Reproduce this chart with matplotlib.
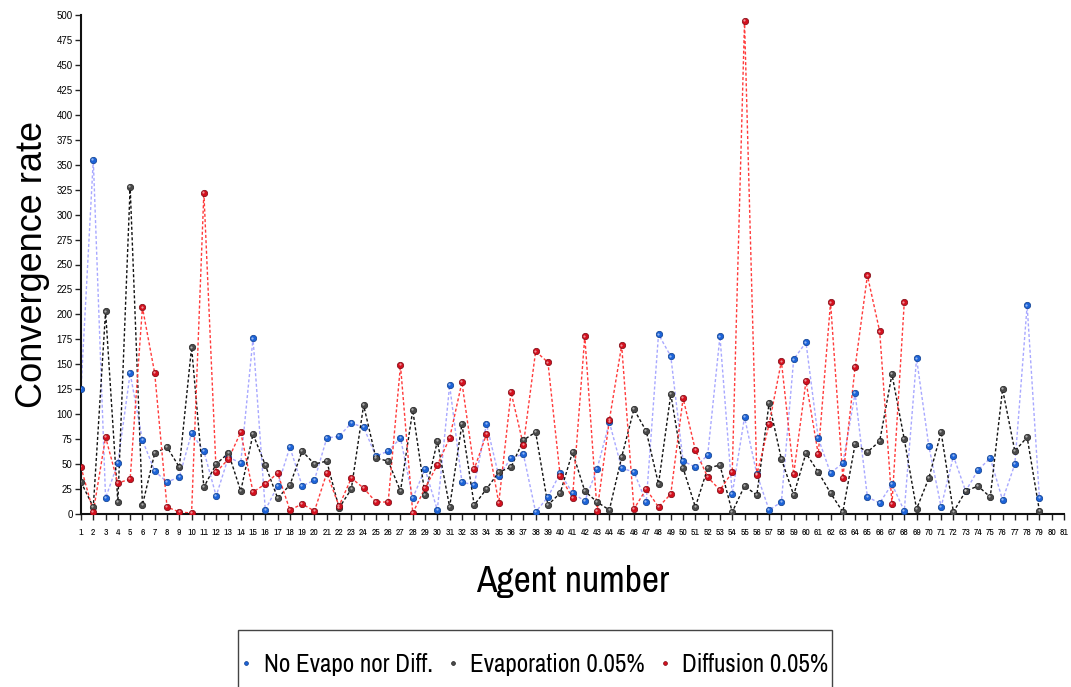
import matplotlib
matplotlib.use("Agg")
import matplotlib.pyplot as plt
from matplotlib import transforms
from matplotlib.patches import Rectangle
import numpy as np

# Convergence rate per agent for the three pheromone settings
no_evapo = [125, 355, 16, 51, 141, 74, 43, 32, 37, 81, 63, 18, 57, 51, 176, 4, 28, 67, 28, 34,
            76, 78, 91, 87, 58, 63, 76, 16, 45, 4, 129, 32, 29, 90, 38, 56, 60, 2, 17, 41,
            21, 13, 45, 92, 46, 42, 12, 180, 158, 53, 47, 59, 178, 20, 97, 40, 4, 12, 155, 172,
            76, 41, 51, 121, 17, 11, 30, 3, 156, 68, 7, 58, 23, 44, 56, 14, 50, 209, 16]
evaporation = [32, 7, 203, 12, 328, 9, 61, 67, 47, 167, 27, 50, 61, 23, 80, 49, 16, 29, 63, 50,
               53, 6, 25, 109, 56, 53, 23, 104, 19, 73, 7, 90, 9, 25, 42, 47, 74, 82, 9, 21,
               62, 23, 12, 4, 57, 105, 83, 30, 120, 46, 7, 46, 49, 2, 28, 19, 111, 55, 19, 61,
               42, 21, 2, 70, 62, 73, 140, 75, 5, 36, 82, 2, 23, 28, 17, 125, 63, 77, 3]
diffusion = [47, 2, 77, 31, 35, 207, 141, 7, 2, 1, 322, 42, 55, 82, 22, 30, 41, 4, 10, 3,
             41, 8, 36, 26, 12, 12, 149, 1, 26, 49, 76, 132, 45, 80, 11, 122, 69, 163, 152, 38,
             16, 178, 3, 94, 169, 5, 25, 7, 20, 116, 64, 37, 24, 42, 494, 39, 90, 153, 40, 133,
             60, 212, 36, 147, 239, 183, 10, 212]

series_names = ["No Evapo nor Diff.", "Evaporation 0.05%", "Diffusion 0.05%"]

NARROW = ["Liberation Sans Narrow", "Archivo Narrow", "Liberation Sans", "DejaVu Sans"]
REGULAR = ["Liberation Sans", "DejaVu Sans"]

W, H = 1071, 687
fig = plt.figure(figsize=(W / 100, H / 100), dpi=100)
ax = fig.add_axes([81 / W, 1 - 514 / H, (1064 - 81) / W, (514 - 15) / H])

styles = [
    (no_evapo, "#a8a8ff", "#1c63d8", "#0c3c8c"),
    (evaporation, "#111111", "#4a4a4a", "#1e1e1e"),
    (diffusion, "#ff3a3a", "#d4101e", "#7a0610"),
]

hl = transforms.offset_copy(ax.transData, fig=fig, x=-0.8, y=0.8, units="dots")
handles = []
for (vals, lc, fc, ec), name in zip(styles, series_names):
    x = np.arange(1, len(vals) + 1)
    ax.plot(x, vals, color=lc, lw=1.0, ls=(0, (2.2, 1.6)), zorder=2)
    h, = ax.plot(x, vals, ls="none", marker="o", ms=4.6, mfc=fc, mec=ec, mew=0.5,
                 zorder=3, label=name)
    # small specular spot so the markers read as little balls
    ax.plot(x, vals, ls="none", marker="o", ms=1.6, mfc="white", mec="none",
            alpha=0.55, transform=hl, zorder=4)
    handles.append(h)

ax.set_xlim(1, 81)
ax.set_ylim(0, 500)
ax.set_xticks(np.arange(1, 82))
ax.set_yticks(np.arange(0, 501, 25))
ax.set_xticklabels([str(i) for i in range(1, 82)], family=NARROW, fontsize=7)
ax.set_yticklabels([str(v) for v in range(0, 501, 25)], family=REGULAR, fontsize=7)
ax.tick_params(axis="both", direction="out", length=4, width=1, color="#222222", pad=2)
ax.tick_params(axis="x", pad=6)

for side in ("top", "right"):
    ax.spines[side].set_visible(False)
for side in ("left", "bottom"):
    ax.spines[side].set_linewidth(1.5)
    ax.spines[side].set_color("#111111")

ax.set_ylabel("Convergence rate", family=REGULAR, fontsize=26, labelpad=5)
ax.set_xlabel("Agent number", family=NARROW, fontsize=27, labelpad=20)

# legend box runs off the bottom edge of the figure
fig.patches.append(Rectangle((238 / W, -0.05), (832 - 238) / W, (H - 630) / H + 0.05,
                             transform=fig.transFigure, fill=False, ec="#444444", lw=1.0))
fig.legend(handles=handles, labels=series_names, loc="center",
           bbox_to_anchor=(535 / W, 1 - 664 / H), ncol=3, frameon=False,
           prop={"family": NARROW, "size": 18}, markerscale=0.6,
           handlelength=0.4, handletextpad=0.5, columnspacing=0.6,
           borderpad=0, borderaxespad=0)

fig.savefig("out.png", dpi=100)
